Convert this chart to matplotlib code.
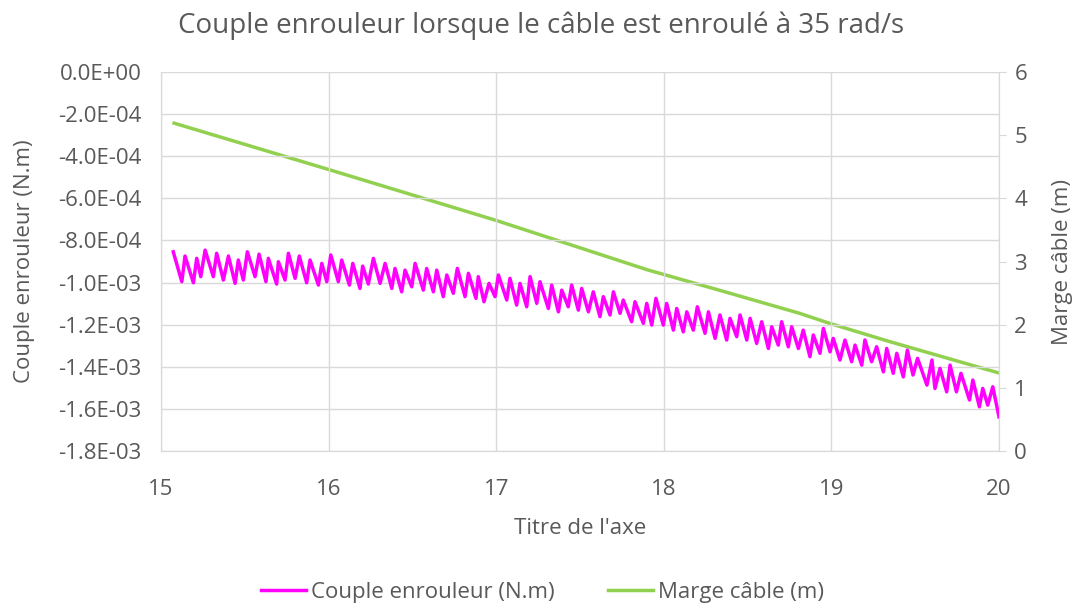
import matplotlib.pyplot as plt
from matplotlib.ticker import FuncFormatter

plt.rcParams['font.family'] = ['Open Sans', 'DejaVu Sans']

# temps (s) des sommets de la courbe de couple
t_couple = [
    15.073, 15.124, 15.143, 15.193, 15.213, 15.237, 15.263, 15.312, 15.332, 15.372,
    15.402, 15.442, 15.461, 15.491, 15.515, 15.561, 15.585, 15.626, 15.640, 15.690,
    15.700, 15.740, 15.760, 15.800, 15.825, 15.869, 15.889, 15.939, 15.959, 15.989,
    16.013, 16.058, 16.078, 16.124, 16.144, 16.187, 16.203, 16.237, 16.267, 16.307,
    16.337, 16.377, 16.396, 16.436, 16.456, 16.496, 16.516, 16.565, 16.585, 16.625,
    16.645, 16.684, 16.705, 16.744, 16.768, 16.814, 16.834, 16.879, 16.893, 16.927,
    16.957, 16.993, 17.013, 17.063, 17.082, 17.122, 17.142, 17.182, 17.202, 17.242,
    17.261, 17.311, 17.331, 17.371, 17.391, 17.430, 17.450, 17.490, 17.510, 17.550,
    17.579, 17.619, 17.639, 17.679, 17.699, 17.739, 17.758, 17.808, 17.828, 17.878,
    17.898, 17.928, 17.953, 17.997, 18.017, 18.057, 18.077, 18.116, 18.137, 18.176,
    18.200, 18.246, 18.266, 18.306, 18.335, 18.375, 18.395, 18.435, 18.455, 18.495,
    18.515, 18.554, 18.584, 18.624, 18.644, 18.683, 18.703, 18.743, 18.763, 18.803,
    18.832, 18.872, 18.892, 18.932, 18.952, 18.992, 19.011, 19.051, 19.081, 19.121,
    19.141, 19.181, 19.200, 19.240, 19.270, 19.310, 19.330, 19.369, 19.390, 19.429,
    19.453, 19.487, 19.514, 19.570, 19.600, 19.618, 19.648, 19.688, 19.708, 19.746,
    19.773, 19.824, 19.844, 19.883, 19.903, 19.933, 19.963, 20.000,
]

# couple enrouleur, en 1e-4 N.m
couple = [
    -8.54, -9.96, -8.74, -10.01, -8.85, -9.72, -8.46, -9.72, -8.61, -9.88,
    -8.74, -10.04, -8.93, -9.88, -8.54, -9.72, -8.65, -9.96, -8.85, -10.07,
    -9.01, -9.88, -8.61, -9.80, -8.74, -10.01, -8.93, -10.12, -9.09, -9.96,
    -8.69, -9.96, -8.93, -10.12, -9.09, -10.28, -9.22, -10.07, -8.85, -10.04,
    -9.09, -10.28, -9.33, -10.44, -9.41, -10.20, -9.09, -10.36, -9.33, -10.44,
    -9.41, -10.67, -9.64, -10.51, -9.33, -10.67, -9.56, -10.75, -9.72, -10.91,
    -10.04, -10.67, -9.64, -10.83, -9.80, -11.07, -10.04, -11.15, -9.72, -10.99,
    -9.96, -11.23, -10.12, -11.39, -10.36, -11.15, -10.12, -11.31, -10.28, -11.39,
    -10.44, -11.62, -10.67, -11.54, -10.44, -11.46, -10.83, -11.86, -10.91, -11.94,
    -10.99, -12.02, -10.75, -12.02, -10.99, -12.26, -11.23, -12.34, -11.39, -12.26,
    -11.15, -12.41, -11.39, -12.65, -11.54, -12.73, -11.70, -12.57, -11.54, -12.73,
    -11.70, -12.89, -11.86, -13.13, -12.10, -12.97, -11.86, -13.05, -12.10, -13.13,
    -12.26, -13.52, -12.49, -13.36, -12.18, -13.29, -12.65, -13.68, -12.73, -13.76,
    -12.97, -13.92, -12.73, -13.76, -13.05, -14.24, -13.13, -14.31, -13.36, -14.48,
    -13.21, -14.39, -13.60, -14.87, -13.68, -15.03, -14.08, -15.19, -13.92, -15.19,
    -14.31, -15.58, -14.63, -15.90, -15.03, -15.82, -14.95, -16.38,
]

# marge de câble restante (m)
t_marge = [15.078, 16.008, 17.0, 17.9, 18.365, 18.81, 18.99, 19.35, 20.0]
marge = [5.19, 4.45, 3.65, 2.87, 2.52, 2.18, 2.02, 1.73, 1.235]

gris = '#595959'
grille = '#d9d9d9'
fs = 16

fig = plt.figure(figsize=(10.75, 6.08), dpi=100)
ax = fig.add_axes([0.1498, 0.2582, 0.7795, 0.6234])
ax2 = ax.twinx()

l1, = ax.plot(t_couple, [c * 1e-4 for c in couple], color='#ff00ff', lw=2.5,
              label='Couple enrouleur (N.m)')
l2, = ax2.plot(t_marge, marge, color='#92d050', lw=2.5, label='Marge câble (m)')

ax.set_xlim(15, 20)
ax.set_ylim(-1.8e-3, 0)
ax.set_yticks([-1.8e-3 + 2e-4 * i for i in range(10)])
ax.yaxis.set_major_formatter(FuncFormatter(
    lambda v, p: '0.0E+00' if abs(v) < 1e-9 else '%.1E' % v))
ax2.set_ylim(0, 6)
ax2.set_yticks(range(7))

ax.grid(True, color=grille, lw=1)
ax.set_axisbelow(True)
for a in (ax, ax2):
    for s in a.spines.values():
        s.set_color(grille)
    a.spines['top'].set_visible(False)
    a.tick_params(colors=gris, labelsize=fs)
ax.tick_params(axis='y', length=0, pad=14)
ax.tick_params(axis='x', length=0, pad=20)
ax2.tick_params(axis='y', length=5, color=grille, pad=6)
ax.set_zorder(ax2.get_zorder() + 1)
ax.patch.set_visible(False)

ax.set_xlabel("Titre de l'axe", fontsize=fs, color=gris, labelpad=13)
ax.set_ylabel('Couple enrouleur (N.m)', fontsize=fs, color=gris, labelpad=17)
ax2.set_ylabel('Marge câble (m)', fontsize=fs, color=gris, labelpad=18)
fig.text(0.503, 0.958, 'Couple enrouleur lorsque le câble est enroulé à 35 rad/s',
         ha='center', va='center', fontsize=20, color=gris)

leg = fig.legend([l1, l2], [l1.get_label(), l2.get_label()], loc='center',
                 bbox_to_anchor=(0.505, 0.026), ncol=2, frameon=False,
                 fontsize=fs, handlelength=2.0, columnspacing=2.4, handletextpad=0.25)
for t in leg.get_texts():
    t.set_color(gris)

fig.savefig('out.png', dpi=100)
